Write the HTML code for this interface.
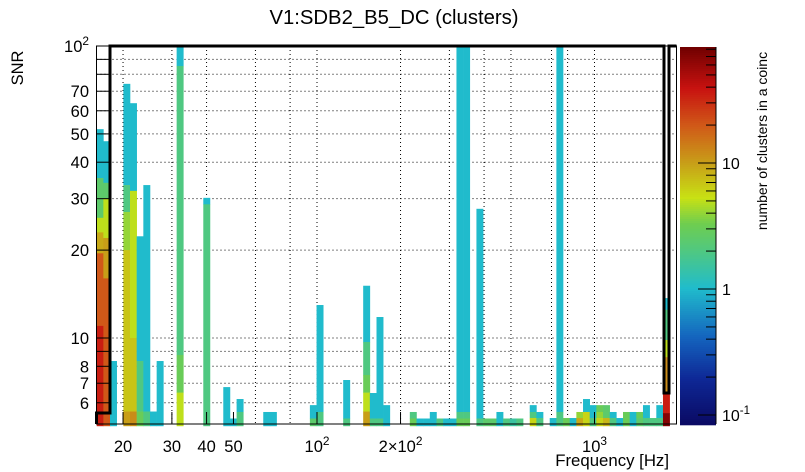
<!DOCTYPE html>
<html><head><meta charset="utf-8"><style>
html,body{margin:0;padding:0;background:#fff}
svg{display:block;font-family:"Liberation Sans",sans-serif}
</style></head><body>
<svg id="chart" width="805" height="472" viewBox="0 0 805 472" xmlns="http://www.w3.org/2000/svg">
<rect width="805" height="472" fill="#fff"/>
<text x="394" y="24" font-size="20.3" text-anchor="middle">V1:SDB2_B5_DC (clusters)</text>
<text transform="translate(23,68) rotate(-90)" font-size="16.5" text-anchor="middle">SNR</text>
<text x="669" y="466" font-size="16.8" text-anchor="end">Frequency [Hz]</text>
<text transform="translate(767,141) rotate(-90)" font-size="14" text-anchor="middle">number of clusters in a coinc</text>
<g id="grid"></g>
<g id="cells"></g>
<g id="axes"></g>
<g id="cbar"></g>
</svg>
<script>
// x bins: index of log-frequency bin; y segments in SNR; value = cluster count
const binIndex = [0,1,2,4,5,6,7,8,9,12,16,19,20,21,25,26,32,33,37,40,41,42,43,47,48,49,50,51,52,53,54,55,57,58,59,60,61,62,63,65,66,68,69,70,71,72,73,74,75,76,77,78,79,80,81,82,83,84,85];
const segments = [
 [[51.9,35.3,1],[35.3,25.8,2.5],[25.8,23,5],[23,19.5,9],[19.5,11,20],[11,5,35]],
 [[47.2,34,1],[34,30,2.5],[30,22,5],[22,16,10],[16,5,20]],
 [[8.34,5,1]],
 [[74.2,33.4,1],[33.4,27,2],[27,20,4],[20,5.6,7],[5.6,5,10]],
 [[63.7,31.9,1],[31.9,10,5],[10,5.6,7],[5.6,5,12]],
 [[22.3,8.34,1],[8.34,5.6,2],[5.6,5,3]],
 [[33.4,5.6,1],[5.6,5,2]],
 [[5.6,5,1]],
 [[8.34,5,1]],
 [[100,85.4,1],[85.4,8.75,2],[8.75,6.5,3],[6.5,5,5]],
 [[30.2,28.7,1],[28.7,5,2]],
 [[6.79,5,1]],
 [[5.3,5,1]],
 [[6.18,5.58,1],[5.58,5,2]],
 [[5.58,5,1]],
 [[5.58,5,1]],
 [[5.89,5.3,1],[5.3,5,2.5]],
 [[12.97,5.58,1],[5.58,5,2]],
 [[7.18,5.3,1],[5.3,5,2]],
 [[15.1,9.69,1],[9.69,7.47,2],[7.47,6.5,3],[6.5,5.6,5],[5.6,5,10]],
 [[6.48,5.3,1],[5.3,5,2]],
 [[11.8,5.3,1],[5.3,5,2]],
 [[5.89,5,1]],
 [[5.58,5.3,2],[5.3,5,3]],
 [[5.3,5,1]],
 [[5.3,5,1]],
 [[5.58,5,1]],
 [[5.3,5,2]],
 [[5.3,5,1]],
 [[5.3,5,1]],
 [[100,5.58,1],[5.58,5.3,2],[5.3,5,3]],
 [[100,5.58,1],[5.58,5.3,2],[5.3,5,3]],
 [[27.7,5.3,1],[5.3,5,2]],
 [[5.3,5,2.5]],
 [[5.3,5,2.5]],
 [[5.58,5,1]],
 [[5.3,5,2]],
 [[5.3,5,1.5]],
 [[5.3,5,2]],
 [[5.89,5.58,1],[5.58,5.32,2],[5.32,5,6]],
 [[5.58,5.32,1],[5.32,5,2]],
 [[5.32,5,1]],
 [[100,5.58,1],[5.58,5,2]],
 [[5.32,5,3]],
 [[5.32,5,1]],
 [[5.58,5.32,4],[5.32,5,9]],
 [[6.18,5.58,1],[5.58,5,6]],
 [[5.89,5.32,1],[5.32,5,2]],
 [[5.89,5.58,3],[5.58,5.32,4],[5.32,5,6]],
 [[5.89,5.32,2.5],[5.32,5,8]],
 [[5.58,5.32,1],[5.32,5,2]],
 [[5.32,5,1]],
 [[5.58,5.32,3],[5.32,5,3]],
 [[5.58,5,1]],
 [[5.58,5.32,3],[5.32,5,2.5]],
 [[5.89,5.32,1],[5.32,5,2]],
 [[5.32,5,2]],
 [[5.89,5.32,1],[5.32,5,2]],
 [[13.7,12.5,1],[12.5,9.84,2],[9.84,8.6,5],[8.6,6.48,12],[6.48,5.53,35],[5.53,5,70]]
];
const xTickValues = [20,30,40,50,100,200,1000];
const xTickLabels = ["20","30","40","50","10^2","2×10^2","10^3"];
const xGridValues = [20,30,40,60,80,100,200,300,400,500,700,800,1000];
const yTickValues = [100,70,60,50,40,30,20,10,8,7,6];
const yTickLabels = ["10^2","70","60","50","40","30","20","10","8","7","6"];
const yGridValues = [90,80,70,60,50,40,30,20,10,9,8,7,6];
const zTickValues = [10,1,0.1];
const zTickLabels = ["10","1","10^-1"];

const NS="http://www.w3.org/2000/svg";
const L=96.5,R=676.5,T=46,B=424;
const X0=96.7,BW=6.662;
const fx=v=>317+277.5*(Math.log10(v)-2);
const fy=v=>338-292*(Math.log10(v)-1);
const bx=i=>X0+i*BW;
const zMin=0.085,zMax=83;
const CT=47,CB=424,CX=680,CW=36;
const fz=v=>163-126*(Math.log10(v)-1);
const stops=[[0,[10,10,100]],[0.12,[14,40,150]],[0.23,[20,100,190]],[0.36,[32,188,204]],[0.46,[80,200,128]],[0.53,[110,205,80]],[0.6,[200,225,20]],[0.69,[200,160,24]],[0.79,[208,90,24]],[0.89,[200,18,16]],[1,[112,0,0]]];
function col(v){let t=(Math.log10(v)-Math.log10(zMin))/(Math.log10(zMax)-Math.log10(zMin));t=Math.max(0,Math.min(1,t));
 for(let k=1;k<stops.length;k++){if(t<=stops[k][0]){const a=stops[k-1],b=stops[k];const u=(t-a[0])/(b[0]-a[0]);
  const c=a[1].map((q,j)=>Math.round(q+(b[1][j]-q)*u));return `rgb(${c[0]},${c[1]},${c[2]})`;}}return "rgb(112,0,0)";}
function mk(tag,at,parent){const e=document.createElementNS(NS,tag);for(const k in at)e.setAttribute(k,at[k]);parent.appendChild(e);return e;}
function lbl(parent,x,y,s,anchor,fs){const t=mk('text',{x:x,y:y,'font-size':fs,'text-anchor':anchor},parent);
 const m=s.split('^');t.appendChild(document.createTextNode(m[0]));
 if(m[1]){const sp=mk('tspan',{dy:-7,'font-size':fs*0.72},t);sp.textContent=m[1];}return t;}

const grid=document.getElementById('grid');
xGridValues.forEach(v=>{const l=mk('line',{x1:fx(v),x2:fx(v),y1:T,y2:B,stroke:'#000','stroke-width':1,'stroke-dasharray':'1,3'},grid);
});
yGridValues.forEach(v=>{const l=mk('line',{x1:L,x2:R,y1:fy(v),y2:fy(v),stroke:'#000','stroke-width':1,'stroke-dasharray':'1,3'},grid);
});

const cells=document.getElementById('cells');
binIndex.forEach((bi,k)=>{segments[k].forEach(s=>{const y1=fy(s[0]),y2=fy(s[1]);
 const r=mk('rect',{x:bx(bi).toFixed(2),y:y1.toFixed(2),width:(BW+0.3).toFixed(2),height:(y2-y1+0.3).toFixed(2),fill:col(s[2])},cells);
 });});

const axes=document.getElementById('axes');
const fr=mk('rect',{x:L,y:T,width:R-L,height:B-T,fill:'none',stroke:'#000','stroke-width':1},axes);

const ol=mk('path',{d:`M${L},${B} L${L},413 L110,413 L110,${T} L664,${T} L664,393 L669,393 L669,${T} L${R},${T}`,fill:'none',stroke:'#000','stroke-width':3},axes);

xTickValues.forEach((v,i)=>{const tk=mk('line',{x1:fx(v),x2:fx(v),y1:B,y2:B-12,stroke:'#000'},axes);
 
 const t=lbl(axes,fx(v),452,xTickLabels[i],'middle',16.5);});
yTickValues.forEach((v,i)=>{const tk=mk('line',{x1:L,x2:L+12,y1:fy(v),y2:fy(v),stroke:'#000'},axes);
 
 const t=lbl(axes,89,fy(v)+6,yTickLabels[i],'end',16.5);});
[90,80,9].forEach(v=>{const tk=mk('line',{x1:L,x2:L+12,y1:fy(v),y2:fy(v),stroke:'#000'},axes);
 });

const cb=document.getElementById('cbar');
for(let y=CT;y<CB;y+=2){const v=Math.pow(10,1+(163-(y+1))/126);
 const r=mk('rect',{x:CX,y:y,width:CW,height:2.3,fill:col(v)},cb);
 }
const ax=mk('line',{x1:CX+CW,x2:CX+CW,y1:CT,y2:CB,stroke:'#000'},cb);

[0.1,0.2,0.3,0.4,0.5,0.6,0.7,0.8,0.9,1,2,3,4,5,6,7,8,9,10,20,30,40,50,60,70,80].forEach(v=>{const major=[0.1,1,10].includes(v);
 const tk=mk('line',{x1:CX+CW-(major?18:10),x2:CX+CW,y1:fz(v),y2:fz(v),stroke:'#000'},cb);
 });
zTickValues.forEach((v,i)=>{const t=lbl(cb,722,fz(v)+6,zTickLabels[i],'start',16);
 });
</script>
</body></html>
